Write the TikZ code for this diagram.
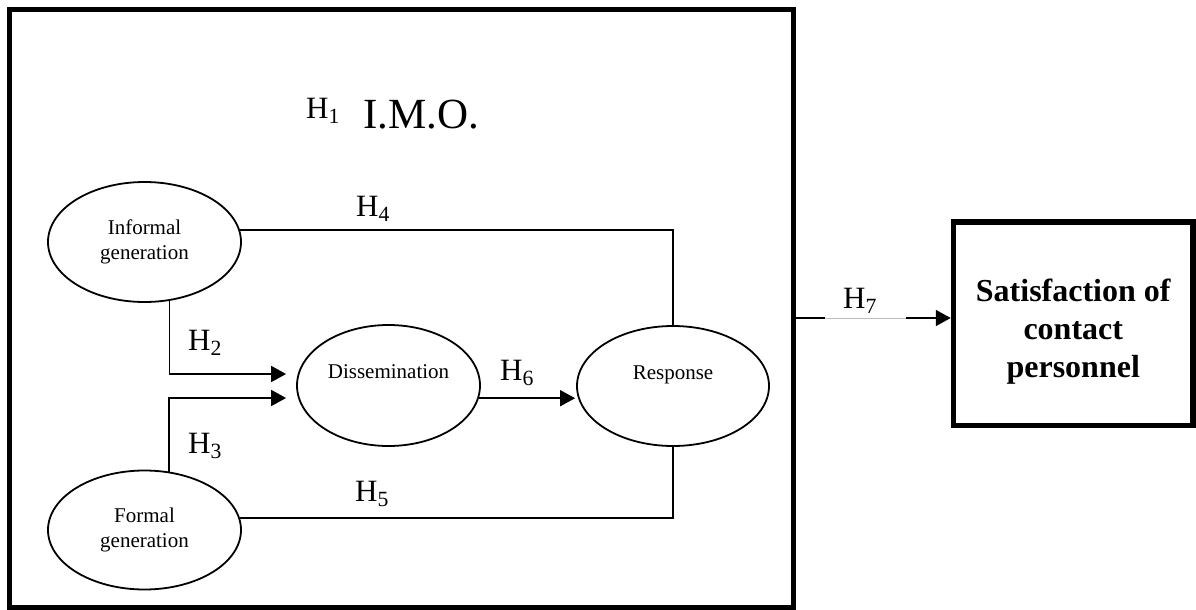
\documentclass[tikz,border=0pt]{standalone}
\usepackage{fontspec}
\setmainfont{Liberation Serif}
\usetikzlibrary{arrows.meta,calc,shapes.geometric}
\begin{document}
\begin{tikzpicture}[x=1pt,y=1pt,
  oval/.style={draw,ellipse,line width=1.8pt,inner sep=0pt,align=center,font=\fontsize{21}{25}\selectfont},
  ovaltext/.style={anchor=base,font=\fontsize{21}{25}\selectfont,inner sep=0pt},
  hlab/.style={anchor=base,font=\fontsize{31}{36}\selectfont,inner sep=0pt},
  conn/.style={line width=1.6pt},
  arr/.style={line width=1.6pt,-{Triangle[length=15pt,width=16pt]}},
  frame/.style={draw,line width=5pt,inner sep=0pt},
  sattxt/.style={anchor=base,inner sep=0pt,font=\bfseries\fontsize{32}{38}\selectfont}]
\useasboundingbox (0,0) rectangle (1196,-610);
% outer frame
\node[frame,minimum width=784.5pt,minimum height=597pt] (big) at (401.25,-308.5) {};
% satisfaction box
\node[frame,line width=5.5pt,minimum width=239.5pt,minimum height=203.5pt] (sat) at (1073.25,-323.75) {};
\node[sattxt] (sattext) at (1073.25,-301) {Satisfaction of};
\node[sattxt] (sattext2) at (1073.25,-339) {contact};
\node[sattxt] (sattext3) at (1073.25,-377) {personnel};
% ellipses
\node[oval,minimum width=193pt,minimum height=120pt] (inf) at (144.5,-242) {Informal\\generation};
\node[oval,minimum width=193pt,minimum height=119pt] (form) at (144.5,-530) {Formal\\generation};
\node[oval,minimum width=183pt,minimum height=121pt] (dis) at (388.5,-385.5) {};
\node[oval,minimum width=192pt,minimum height=120pt] (resp) at (673,-386) {};
\node[ovaltext] (distext) at (388.5,-378) {Dissemination};
\node[ovaltext] (resptext) at (673,-379) {Response};
% title
\node[hlab] (h1) at (323,-118) {H\textsubscript{1}};
\node[anchor=base,inner sep=0pt,font=\fontsize{43}{50}\selectfont] (imo) at (421,-128) {I.M.O.};
% connectors
\coordinate (t2) at ($(dis.west)+(-10,11.5)$);
\coordinate (t3) at ($(dis.west)+(-10,-12.5)$);
\draw[arr] (inf.-67) |- (t2);
\draw[arr] (form.67) |- (t3);
\draw[conn] (inf.7) -| (resp.north);
\draw[conn] (form.7) -| (resp.south);
\draw[arr,shorten >=1pt] (dis.-8) -- (dis.-8 -| resp.west);
\coordinate (h7a) at ($(big.east)+(0,-9.5)$);
\coordinate (g1) at (825,-318);
\coordinate (g2) at (906,-318);
\draw[arr] (h7a) -- (h7a -| sat.west);
\draw[white,line width=2pt] (g1) -- (g2);
\draw[black!25,line width=1pt] (g1) -- (g2);
% labels
\node[hlab] (h2) at (205,-350) {H\textsubscript{2}};
\node[hlab] (h3) at (205,-453) {H\textsubscript{3}};
\node[hlab] (h4) at (373,-216) {H\textsubscript{4}};
\node[hlab] (h5) at (372,-501) {H\textsubscript{5}};
\node[hlab] (h6) at (517,-380) {H\textsubscript{6}};
\node[hlab] (h7) at (860,-308) {H\textsubscript{7}};
\end{tikzpicture}
\end{document}
